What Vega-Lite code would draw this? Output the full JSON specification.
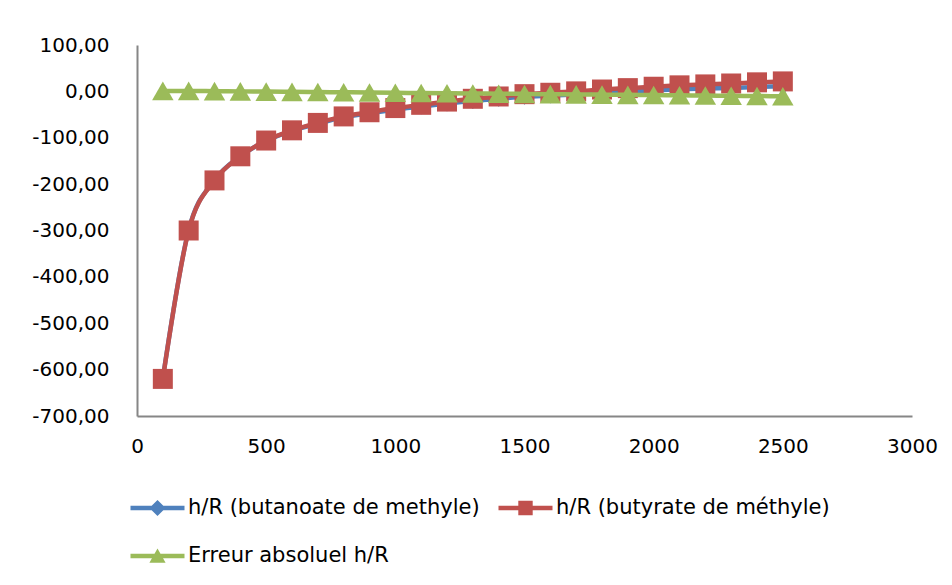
{
  "$schema": "https://vega.github.io/schema/vega-lite/v6.json",
  "width": 775,
  "height": 371,
  "autosize": {"type": "none"},
  "padding": {"left": 137, "top": 45, "right": 40, "bottom": 169},
  "background": "#ffffff",
  "data": {
    "values": [
      {"T": 100, "s": "h/R (butanoate de methyle)", "v": -619},
      {"T": 200, "s": "h/R (butanoate de methyle)", "v": -299},
      {"T": 300, "s": "h/R (butanoate de methyle)", "v": -191.5},
      {"T": 400, "s": "h/R (butanoate de methyle)", "v": -140},
      {"T": 500, "s": "h/R (butanoate de methyle)", "v": -106.5},
      {"T": 600, "s": "h/R (butanoate de methyle)", "v": -85},
      {"T": 700, "s": "h/R (butanoate de methyle)", "v": -69.5},
      {"T": 800, "s": "h/R (butanoate de methyle)", "v": -56},
      {"T": 900, "s": "h/R (butanoate de methyle)", "v": -47.5},
      {"T": 1000, "s": "h/R (butanoate de methyle)", "v": -39},
      {"T": 1100, "s": "h/R (butanoate de methyle)", "v": -32.5},
      {"T": 1200, "s": "h/R (butanoate de methyle)", "v": -26},
      {"T": 1300, "s": "h/R (butanoate de methyle)", "v": -20.5},
      {"T": 1400, "s": "h/R (butanoate de methyle)", "v": -16},
      {"T": 1500, "s": "h/R (butanoate de methyle)", "v": -11.5},
      {"T": 1600, "s": "h/R (butanoate de methyle)", "v": -9},
      {"T": 1700, "s": "h/R (butanoate de methyle)", "v": -6.5},
      {"T": 1800, "s": "h/R (butanoate de methyle)", "v": -3},
      {"T": 1900, "s": "h/R (butanoate de methyle)", "v": -0.5},
      {"T": 2000, "s": "h/R (butanoate de methyle)", "v": 2},
      {"T": 2100, "s": "h/R (butanoate de methyle)", "v": 4.5},
      {"T": 2200, "s": "h/R (butanoate de methyle)", "v": 6},
      {"T": 2300, "s": "h/R (butanoate de methyle)", "v": 7.5},
      {"T": 2400, "s": "h/R (butanoate de methyle)", "v": 9.5},
      {"T": 2500, "s": "h/R (butanoate de methyle)", "v": 11},
      {"T": 100, "s": "h/R (butyrate de méthyle)", "v": -620},
      {"T": 200, "s": "h/R (butyrate de méthyle)", "v": -300},
      {"T": 300, "s": "h/R (butyrate de méthyle)", "v": -192},
      {"T": 400, "s": "h/R (butyrate de méthyle)", "v": -140},
      {"T": 500, "s": "h/R (butyrate de méthyle)", "v": -106},
      {"T": 600, "s": "h/R (butyrate de méthyle)", "v": -84},
      {"T": 700, "s": "h/R (butyrate de méthyle)", "v": -68},
      {"T": 800, "s": "h/R (butyrate de méthyle)", "v": -54},
      {"T": 900, "s": "h/R (butyrate de méthyle)", "v": -45},
      {"T": 1000, "s": "h/R (butyrate de méthyle)", "v": -36},
      {"T": 1100, "s": "h/R (butyrate de méthyle)", "v": -29},
      {"T": 1200, "s": "h/R (butyrate de méthyle)", "v": -22},
      {"T": 1300, "s": "h/R (butyrate de méthyle)", "v": -16},
      {"T": 1400, "s": "h/R (butyrate de méthyle)", "v": -11},
      {"T": 1500, "s": "h/R (butyrate de méthyle)", "v": -6},
      {"T": 1600, "s": "h/R (butyrate de méthyle)", "v": -3},
      {"T": 1700, "s": "h/R (butyrate de méthyle)", "v": 0},
      {"T": 1800, "s": "h/R (butyrate de méthyle)", "v": 4},
      {"T": 1900, "s": "h/R (butyrate de méthyle)", "v": 7},
      {"T": 2000, "s": "h/R (butyrate de méthyle)", "v": 10},
      {"T": 2100, "s": "h/R (butyrate de méthyle)", "v": 13},
      {"T": 2200, "s": "h/R (butyrate de méthyle)", "v": 15},
      {"T": 2300, "s": "h/R (butyrate de méthyle)", "v": 17},
      {"T": 2400, "s": "h/R (butyrate de méthyle)", "v": 19.5},
      {"T": 2500, "s": "h/R (butyrate de méthyle)", "v": 21.5},
      {"T": 100, "s": "Erreur absoluel h/R", "v": 1},
      {"T": 200, "s": "Erreur absoluel h/R", "v": 1},
      {"T": 300, "s": "Erreur absoluel h/R", "v": 0.5},
      {"T": 400, "s": "Erreur absoluel h/R", "v": 0},
      {"T": 500, "s": "Erreur absoluel h/R", "v": -0.5},
      {"T": 600, "s": "Erreur absoluel h/R", "v": -1},
      {"T": 700, "s": "Erreur absoluel h/R", "v": -1.5},
      {"T": 800, "s": "Erreur absoluel h/R", "v": -2},
      {"T": 900, "s": "Erreur absoluel h/R", "v": -2.5},
      {"T": 1000, "s": "Erreur absoluel h/R", "v": -3},
      {"T": 1100, "s": "Erreur absoluel h/R", "v": -3.5},
      {"T": 1200, "s": "Erreur absoluel h/R", "v": -4},
      {"T": 1300, "s": "Erreur absoluel h/R", "v": -4.5},
      {"T": 1400, "s": "Erreur absoluel h/R", "v": -5},
      {"T": 1500, "s": "Erreur absoluel h/R", "v": -5.5},
      {"T": 1600, "s": "Erreur absoluel h/R", "v": -6},
      {"T": 1700, "s": "Erreur absoluel h/R", "v": -6.5},
      {"T": 1800, "s": "Erreur absoluel h/R", "v": -7},
      {"T": 1900, "s": "Erreur absoluel h/R", "v": -7.5},
      {"T": 2000, "s": "Erreur absoluel h/R", "v": -8},
      {"T": 2100, "s": "Erreur absoluel h/R", "v": -8.5},
      {"T": 2200, "s": "Erreur absoluel h/R", "v": -9},
      {"T": 2300, "s": "Erreur absoluel h/R", "v": -9.5},
      {"T": 2400, "s": "Erreur absoluel h/R", "v": -10},
      {"T": 2500, "s": "Erreur absoluel h/R", "v": -10.5}
    ]
  },
  "encoding": {
    "x": {
      "field": "T",
      "type": "quantitative",
      "scale": {"domain": [0, 3000], "nice": false},
      "axis": {"values": [0, 500, 1000, 1500, 2000, 2500, 3000], "labelExpr": "format(datum.value, 'd')", "labelFlush": false, "labelPadding": 20, "title": null}
    },
    "y": {
      "field": "v",
      "type": "quantitative",
      "scale": {"domain": [-700, 100], "nice": false},
      "axis": {
        "values": [-700, -600, -500, -400, -300, -200, -100, 0, 100],
        "labelExpr": "replace(replace(format(datum.value, '.2f'), '.', ','), '\u2212', '-')",
        "labelFlush": false,
        "labelPadding": 28,
        "title": null
      }
    },
    "color": {
      "field": "s",
      "type": "nominal",
      "scale": {
        "domain": ["h/R (butanoate de methyle)", "h/R (butyrate de méthyle)", "Erreur absoluel h/R"],
        "range": ["#4F81BD", "#C0504D", "#9BBB59"]
      },
      "legend": {
        "title": null,
        "orient": "none",
        "direction": "horizontal",
        "legendX": 2.5,
        "legendY": 445,
        "columns": 2,
        "columnPadding": 18,
        "rowPadding": 20,
        "padding": 0,
        "labelOffset": 12.5,
        "labelFont": "DejaVu Sans",
        "labelFontSize": 21,
        "labelColor": "#000000",
        "labelLimit": 600,
        "symbolSize": 1296,
        "encode": {
          "symbols": {
            "update": {
              "shape": {"signal": "datum.value === 'Erreur absoluel h/R' ? 'M0,-0.42L0.45,0.38L-0.45,0.38Z M-1.5,-0.125H1.5V0.125H-1.5Z' : datum.value === 'h/R (butyrate de méthyle)' ? 'M-0.4,-0.4H0.4V0.4H-0.4Z M-1.5,-0.125H1.5V0.125H-1.5Z' : 'M0,-0.45L0.45,0L0,0.45L-0.45,0Z M-1.5,-0.125H1.5V0.125H-1.5Z'"},
              "size": {"value": 1296},
              "strokeWidth": {"value": 0},
              "opacity": {"value": 1}
            }
          }
        }
      }
    }
  },
  "layer": [
    {
      "transform": [{"filter": "datum.s === 'h/R (butanoate de methyle)'"}],
      "mark": {"type": "line", "interpolate": "monotone", "strokeWidth": 4.5}
    },
    {
      "transform": [{"filter": "datum.s === 'h/R (butanoate de methyle)'"}],
      "mark": {"type": "point", "filled": true, "opacity": 1, "size": 260, "shape": "diamond"}
    },
    {
      "transform": [{"filter": "datum.s === 'h/R (butyrate de méthyle)'"}],
      "mark": {"type": "line", "interpolate": "monotone", "strokeWidth": 4.5}
    },
    {
      "transform": [{"filter": "datum.s === 'h/R (butyrate de méthyle)'"}],
      "mark": {"type": "point", "filled": true, "opacity": 1, "size": 400, "shape": "square"}
    },
    {
      "transform": [{"filter": "datum.s === 'Erreur absoluel h/R'"}],
      "mark": {"type": "line", "interpolate": "monotone", "strokeWidth": 4.5}
    },
    {
      "transform": [{"filter": "datum.s === 'Erreur absoluel h/R'"}],
      "mark": {"type": "point", "filled": true, "opacity": 1, "size": 460, "shape": "triangle-up"}
    }
  ],
  "config": {
    "view": {"stroke": null},
    "axis": {
      "labelFont": "DejaVu Sans",
      "labelFontSize": 20,
      "labelColor": "#000000",
      "domainColor": "#868686",
      "domainWidth": 2,
      "ticks": false,
      "grid": false
    }
  }
}
